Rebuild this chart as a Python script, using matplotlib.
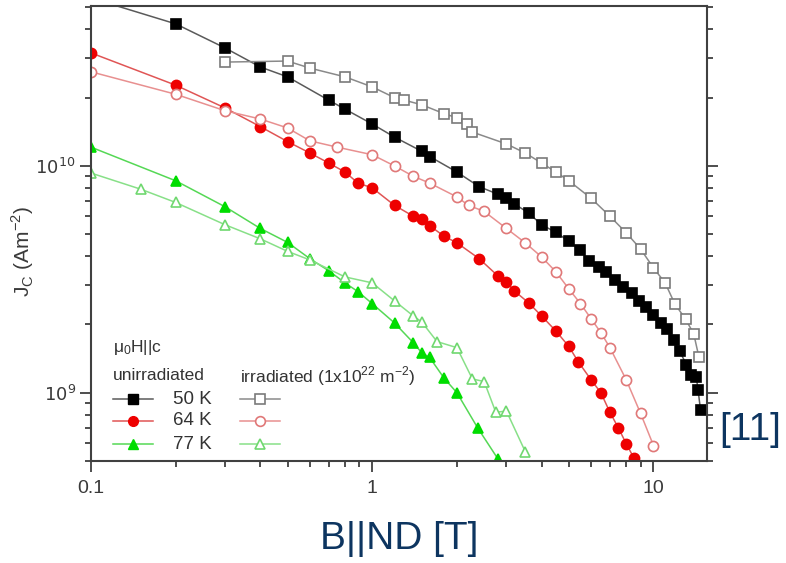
import matplotlib
matplotlib.use("Agg")
import matplotlib.pyplot as plt
from matplotlib.lines import Line2D
from matplotlib.ticker import FixedLocator, FixedFormatter, LogLocator, NullFormatter

plt.rcParams['font.family'] = ['Liberation Sans', 'DejaVu Sans']

# unirradiated 50 K (filled squares)
b50_x = [0.1, 0.2, 0.3, 0.4, 0.5, 0.7, 0.8, 1.0, 1.2, 1.5, 1.6, 2.0, 2.4, 2.8, 3.0, 3.2, 3.6, 4.0,
         4.5, 5.0, 5.5, 5.9, 6.4, 6.8, 7.3, 7.8, 8.4, 8.9, 9.4, 10.0, 10.6, 11.2, 11.8, 12.4, 13.1,
         13.6, 14.2, 14.4, 14.7]
b50_y = [55, 42.3, 33.1, 27.3, 24.7, 19.5, 17.8, 15.3, 13.4, 11.6, 11.0, 9.4, 8.1, 7.5, 7.2, 6.8, 6.2, 5.5,
         5.1, 4.65, 4.25, 3.8, 3.6, 3.4, 3.15, 2.93, 2.75, 2.54, 2.39, 2.21, 2.03, 1.9, 1.71, 1.52, 1.33,
         1.2, 1.17, 1.03, 0.84]
# irradiated 50 K (open squares)
i50_x = [0.3, 0.5, 0.6, 0.8, 1.0, 1.2, 1.3, 1.5, 1.8, 2.0, 2.18, 2.27, 3.0, 3.5, 4.0, 4.5, 5.0, 6.0,
         7.0, 8.0, 9.0, 10.0, 11.0, 11.9, 13.0, 13.9, 14.5]
i50_y = [28.7, 29, 27, 24.7, 22.3, 20, 19.5, 18.6, 17, 16.3, 15.3, 14.1, 12.5, 11.4, 10.3, 9.4, 8.6, 7.2,
         6.0, 5.07, 4.3, 3.55, 3.05, 2.47, 2.11, 1.82, 1.44]
# unirradiated 64 K (filled circles)
b64_x = [0.1, 0.2, 0.3, 0.4, 0.5, 0.6, 0.7, 0.8, 0.89, 1.0, 1.2, 1.4, 1.5, 1.6, 1.8, 2.0, 2.4, 2.8,
         3.0, 3.2, 3.6, 4.0, 4.5, 5.0, 5.4, 6.0, 6.5, 7.0, 7.5, 8.0, 8.5, 8.8]
b64_y = [31.5, 22.7, 18.0, 14.9, 12.8, 11.4, 10.3, 9.4, 8.4, 8.0, 6.7, 6.0, 5.85, 5.45, 4.9, 4.58, 3.9, 3.27,
         3.08, 2.81, 2.49, 2.18, 1.87, 1.6, 1.37, 1.14, 1.0, 0.82, 0.70, 0.596, 0.518, 0.46]
# irradiated 64 K (open circles)
i64_x = [0.1, 0.2, 0.3, 0.4, 0.5, 0.6, 0.75, 1.0, 1.2, 1.4, 1.6, 2.0, 2.2, 2.5, 3.0, 3.5, 4.0, 4.5,
         5.0, 5.5, 6.0, 6.5, 7.0, 8.0, 9.0, 10.0]
i64_y = [26.0, 20.7, 17.5, 16.1, 14.7, 12.9, 12.1, 11.2, 10.0, 9.0, 8.4, 7.3, 6.7, 6.3, 5.3, 4.58, 3.97, 3.41,
         2.87, 2.47, 2.12, 1.84, 1.58, 1.14, 0.81, 0.585]
# unirradiated 77 K (filled triangles)
b77_x = [0.1, 0.2, 0.3, 0.4, 0.5, 0.6, 0.7, 0.8, 0.89, 1.0, 1.2, 1.4, 1.5, 1.6, 1.8, 2.0, 2.37, 2.8]
b77_y = [12.1, 8.6, 6.6, 5.3, 4.6, 3.9, 3.45, 3.05, 2.79, 2.47, 2.03, 1.66, 1.5, 1.43, 1.16, 1.0, 0.70, 0.51]
# irradiated 77 K (open triangles)
i77_x = [0.1, 0.15, 0.2, 0.3, 0.4, 0.5, 0.6, 0.8, 1.0, 1.2, 1.4, 1.5, 1.7, 2.0, 2.27, 2.5, 2.75, 3.0, 3.5]
i77_y = [9.3, 7.9, 6.9, 5.5, 4.77, 4.2, 3.85, 3.24, 3.05, 2.54, 2.18, 2.05, 1.68, 1.58, 1.15, 1.12, 0.82, 0.83,
         0.55]

x_ticks = [0.1, 1, 10]
x_tick_labels = ['0.1', '1', '10']
y_ticks = [1e9, 1e10]
y_tick_labels = [r'$10^{9}$', r'$10^{10}$']

fig = plt.figure(figsize=(7.86, 5.63), dpi=100)
ax = fig.add_axes([0.1158, 0.1812, 0.7837, 0.8081])

series = [
    (b50_x, b50_y, 's', '#000000', '#000000', '#5a5a5a'),
    (i50_x, i50_y, 's', 'white', '#7a7a7a', '#8a8a8a'),
    (b64_x, b64_y, 'o', '#ee0000', '#ee0000', '#e05555'),
    (i64_x, i64_y, 'o', 'white', '#e07878', '#e89090'),
    (b77_x, b77_y, '^', '#00dd00', '#00dd00', '#55d855'),
    (i77_x, i77_y, '^', 'white', '#70d870', '#88e088'),
]
for xs, ys, mk, fc, ec, lc in series:
    ax.plot(xs, [v * 1e9 for v in ys], color=lc, lw=1.1, marker=mk, ms=7.3,
            mfc=fc, mec=ec, mew=1.2, clip_on=True)

ax.set_xscale('log')
ax.set_yscale('log')
ax.set_xlim(0.1, 15.5)
ax.set_ylim(5e8, 5.07e10)

ax.xaxis.set_major_locator(FixedLocator(x_ticks))
ax.xaxis.set_major_formatter(FixedFormatter(x_tick_labels))
ax.xaxis.set_minor_locator(LogLocator(base=10, subs=range(2, 10)))
ax.xaxis.set_minor_formatter(NullFormatter())
ax.yaxis.set_major_locator(FixedLocator(y_ticks))
ax.yaxis.set_major_formatter(FixedFormatter(y_tick_labels))
ax.yaxis.set_minor_locator(LogLocator(base=10, subs=range(2, 10)))
ax.yaxis.set_minor_formatter(NullFormatter())

for s in ax.spines.values():
    s.set_color('#404040')
    s.set_linewidth(1.5)
ax.tick_params(which='both', direction='out', color='#404040', width=1.3,
               right=True, top=False, labelright=False)
ax.tick_params(which='major', length=8)
ax.tick_params(which='minor', length=4.5)
ax.tick_params(axis='x', labelsize=14, labelcolor='#3a3a3a', pad=6)
ax.tick_params(axis='y', labelsize=13, labelcolor='#3a3a3a', pad=3)

ax.set_ylabel(r'J$_{\mathregular{C}}$ (Am$^{\mathregular{-2}}$)', fontsize=15, color='#3a3a3a')
ax.yaxis.set_label_coords(-0.09, 0.46)
ax.set_xlabel('B||ND [T]', fontsize=28, color='#0d3560', labelpad=17)
fig.text(0.955, 0.237, '[11]', fontsize=28, color='#0d3560', ha='center', va='center')

# legend block drawn by hand
tr = ax.transAxes
lfs = 12.5
ax.text(0.036, 0.25, r'$\mathregular{\mu_0}$H||c', transform=tr, fontsize=lfs, color='#333333', va='center')
ax.text(0.036, 0.187, 'unirradiated', transform=tr, fontsize=lfs, color='#333333', va='center')
ax.text(0.242, 0.187, r'irradiated (1x10$^{\mathregular{22}}$ m$^{\mathregular{-2}}$)', transform=tr,
        fontsize=lfs, color='#333333', va='center')
row_y = [0.136, 0.088, 0.037]
row_labels = ['50 K', '64 K', '77 K']
for (xs, ys, mk, fc, ec, lc), yy, lab in zip(series[0::2], row_y, row_labels):
    ax.add_line(Line2D([0.036, 0.101], [yy, yy], transform=tr, color=lc, lw=1.1))
    ax.add_line(Line2D([0.068], [yy], transform=tr, marker=mk, ms=7, mfc=fc, mec=ec, ls='none'))
    ax.text(0.133, yy, lab, transform=tr, fontsize=lfs + 1, color='#333333', va='center')
for (xs, ys, mk, fc, ec, lc), yy in zip(series[1::2], row_y):
    ax.add_line(Line2D([0.242, 0.307], [yy, yy], transform=tr, color=lc, lw=1.1))
    ax.add_line(Line2D([0.274], [yy], transform=tr, marker=mk, ms=7, mfc=fc, mec=ec, mew=1.2, ls='none'))

fig.savefig('out.png', dpi=100)
